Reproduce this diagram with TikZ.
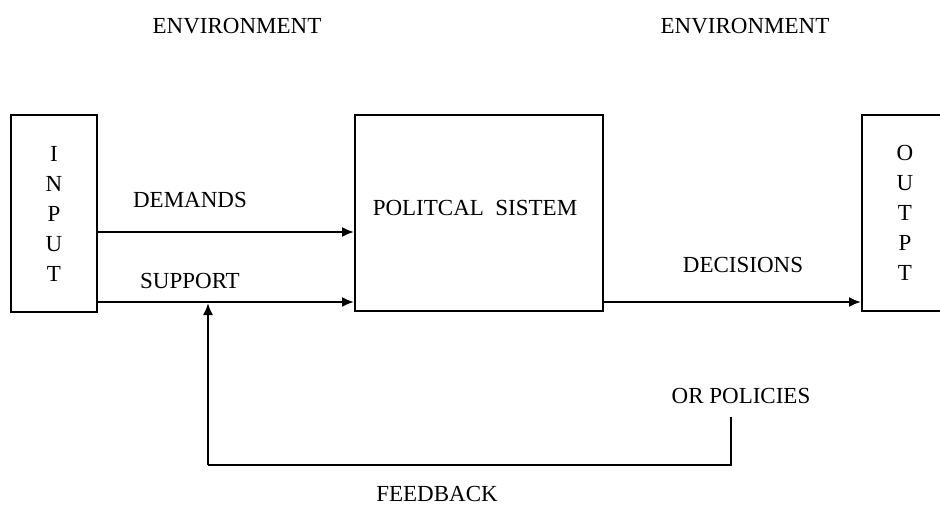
\documentclass[tikz,border=0pt]{standalone}
\usepackage{fontspec}
\setmainfont{Liberation Serif}
\usetikzlibrary{arrows.meta,calc}
\begin{document}
\begin{tikzpicture}[x=1pt,y=-1pt,
  lbl/.style={font=\fontsize{23}{27}\selectfont, inner sep=0pt},
  blk/.style={draw, line width=2pt, inner sep=0pt},
  stack/.style={align=center, font=\fontsize{23}{30}\selectfont},
  flow/.style={line width=2pt, -{Latex[length=12pt,width=10pt]}},
  wire/.style={line width=2pt}]
  \path[use as bounding box] (0,0) rectangle (940,506);
  \begin{scope}
    \clip (0,0) rectangle (940,506);
    % system boundary labels
    \node[lbl] (envL) at (237,26) {ENVIRONMENT};
    \node[lbl] (envR) at (745,26) {ENVIRONMENT};
    % the three blocks
    \node[blk, minimum width=86pt, minimum height=197pt, stack] (input) at (54,213.5)
      {I\\N\\P\\U\\T};
    \node[blk, minimum width=248pt, minimum height=196pt] (pol) at (479,213) {};
    \node[lbl] (polt) at (475,208) {POLITCAL\ \ SISTEM};
    \node[blk, minimum width=100pt, minimum height=196pt, stack, text width=86pt] (output) at (912,213)
      {\hspace*{-14pt}O\\\hspace*{-14pt}U\\\hspace*{-14pt}T\\\hspace*{-14pt}P\\\hspace*{-14pt}T};
    % flows into and out of the system
    \coordinate (dY) at (0,232);
    \coordinate (sY) at (0,302);
    \draw[flow] (input.east |- dY) -- (pol.west |- dY);
    \draw[flow] (input.east |- sY) -- (pol.west |- sY);
    \draw[flow] (pol.east |- sY) -- (output.west |- sY);
    \node[lbl] (dem) at (190,200) {DEMANDS};
    \node[lbl] (sup) at (190,281) {SUPPORT};
    \node[lbl] (dec) at (743,265) {DECISIONS};
    \node[lbl] (pols) at (741,396) {OR POLICIES};
    % feedback loop
    \coordinate (fbTop) at (731,417);
    \coordinate (fbY) at (0,465);
    \coordinate (fbIn) at (208,303);
    \draw[wire] (fbTop) -- (fbTop |- fbY) -- (fbIn |- fbY);
    \draw[flow] (fbIn |- fbY) -- (fbIn);
    \node[lbl] (fb) at (437,494) {FEEDBACK};
  \end{scope}
\end{tikzpicture}
\end{document}
